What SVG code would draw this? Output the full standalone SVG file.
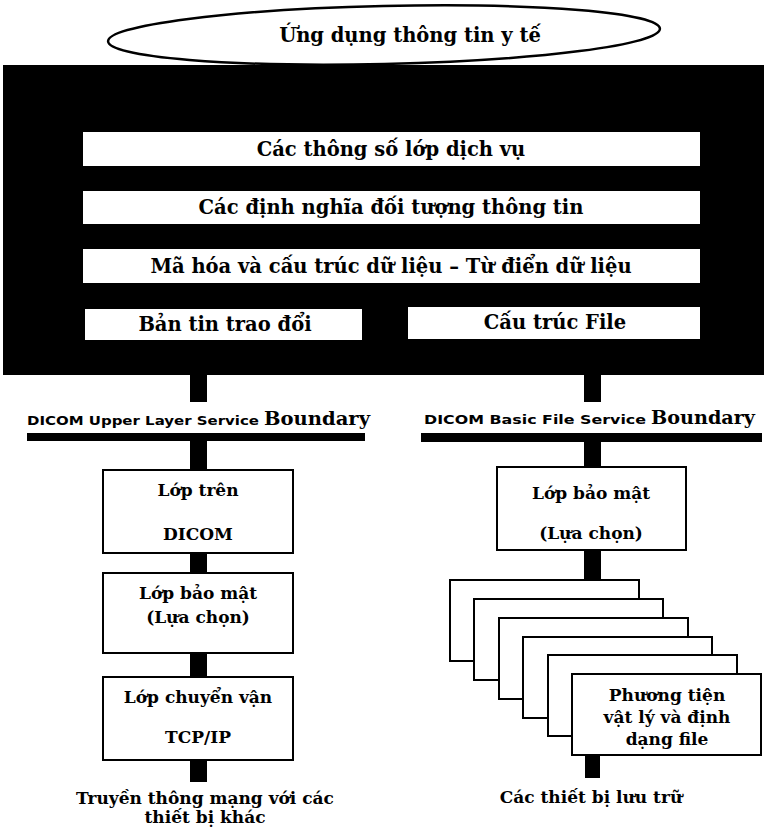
<svg xmlns="http://www.w3.org/2000/svg" width="764" height="829" viewBox="0 0 764 829">
<style>
.box{fill:#fff;stroke:#000;stroke-width:2}
.wb{fill:#fff;stroke:none}
.t{font-family:"DejaVu Serif",serif;font-weight:bold;font-size:19.5px;fill:#000;text-anchor:middle}
.tl{font-family:"DejaVu Serif",serif;font-weight:bold;font-size:17px;fill:#000;text-anchor:middle}
.bs{font-family:"DejaVu Sans",sans-serif;font-weight:bold;font-size:13px;fill:#000}
.bb{font-family:"DejaVu Serif",serif;font-weight:bold;font-size:18px;fill:#000}
.c{fill:#000}
</style>
<rect width="764" height="829" fill="#fff"/>
<g id="app">
<ellipse cx="384" cy="35" rx="276" ry="29" fill="#fff" stroke="#000" stroke-width="2.5" transform="rotate(-1.3 384 35)"/>
<text class="t" x="410" y="42" font-size="22">Ứng dụng thông tin y tế</text>
</g>
<g id="dicom-block">
<rect x="3" y="65" width="761" height="310" fill="#000"/>
</g>
<g id="service-class">
<rect class="wb" x="83" y="132" width="617" height="34"/>
<text class="t" x="391" y="156">Các thông số lớp dịch vụ</text>
</g>
<g id="iod">
<rect class="wb" x="83" y="191" width="617" height="33"/>
<text class="t" x="391" y="214">Các định nghĩa đối tượng thông tin</text>
</g>
<g id="encoding">
<rect class="wb" x="83" y="249" width="617" height="34"/>
<text class="t" x="391" y="273">Mã hóa và cấu trúc dữ liệu – Từ điển dữ liệu</text>
</g>
<g id="message">
<rect class="wb" x="85" y="309" width="277" height="31"/>
<text class="t" x="225" y="331">Bản tin trao đổi</text>
</g>
<g id="file-format">
<rect class="wb" x="408" y="307" width="292" height="32"/>
<text class="t" x="555" y="329">Cấu trúc File</text>
</g>
<g id="connectors">
<rect class="c" x="190" y="375" width="17" height="27"/>
<rect class="c" x="584" y="375" width="17" height="27"/>
<rect class="c" x="190" y="441" width="17" height="29"/>
<rect class="c" x="190" y="553" width="17" height="20"/>
<rect class="c" x="190" y="653" width="17" height="24"/>
<rect class="c" x="190" y="760" width="17" height="22"/>
<rect class="c" x="584" y="442" width="17" height="25"/>
<rect class="c" x="584" y="550" width="17" height="30"/>
<rect class="c" x="585" y="755" width="15" height="23"/>
</g>
<g id="upper-boundary">
<text class="bs" x="27" y="425" textLength="232" lengthAdjust="spacingAndGlyphs">DICOM Upper Layer Service</text>
<text class="bb" x="264" y="425" textLength="106" lengthAdjust="spacingAndGlyphs">Boundary</text>
<rect class="c" x="27" y="433" width="338" height="8"/>
</g>
<g id="file-boundary">
<text class="bs" x="424" y="424" textLength="222" lengthAdjust="spacingAndGlyphs">DICOM Basic File Service</text>
<text class="bb" x="651" y="424" textLength="104" lengthAdjust="spacingAndGlyphs">Boundary</text>
<rect class="c" x="421" y="433" width="341" height="9"/>
</g>
<g id="upper-layer">
<rect class="box" x="103" y="470" width="190" height="83"/>
<text class="tl" x="198" y="496">Lớp trên</text>
<text class="tl" x="198" y="540">DICOM</text>
</g>
<g id="security-left">
<rect class="box" x="103" y="573" width="190" height="80"/>
<text class="tl" x="198" y="599">Lớp bảo mật</text>
<text class="tl" x="198" y="623">(Lựa chọn)</text>
</g>
<g id="transport">
<rect class="box" x="103" y="677" width="190" height="83"/>
<text class="tl" x="198" y="703">Lớp chuyển vận</text>
<text class="tl" x="198" y="743">TCP/IP</text>
</g>
<g id="network">
<text class="tl" x="205" y="804">Truyền thông mạng với các</text>
<text class="tl" x="205" y="823">thiết bị khác</text>
</g>
<g id="security-right">
<rect class="box" x="497" y="467" width="189" height="83"/>
<text class="tl" x="591" y="499">Lớp bảo mật</text>
<text class="tl" x="591" y="539">(Lựa chọn)</text>
</g>
<g id="media">
<rect class="box" x="450" y="580" width="189" height="81"/>
<rect class="box" x="474" y="599" width="189" height="81"/>
<rect class="box" x="499" y="618" width="189" height="81"/>
<rect class="box" x="523" y="637" width="189" height="81"/>
<rect class="box" x="548" y="655" width="189" height="81"/>
<rect class="box" x="572" y="674" width="189" height="81"/>
<text class="tl" x="667" y="701">Phương tiện</text>
<text class="tl" x="667" y="723">vật lý và định</text>
<text class="tl" x="667" y="745">dạng file</text>
</g>
<g id="storage">
<text class="tl" x="591" y="803">Các thiết bị lưu trữ</text>
</g>
</svg>
